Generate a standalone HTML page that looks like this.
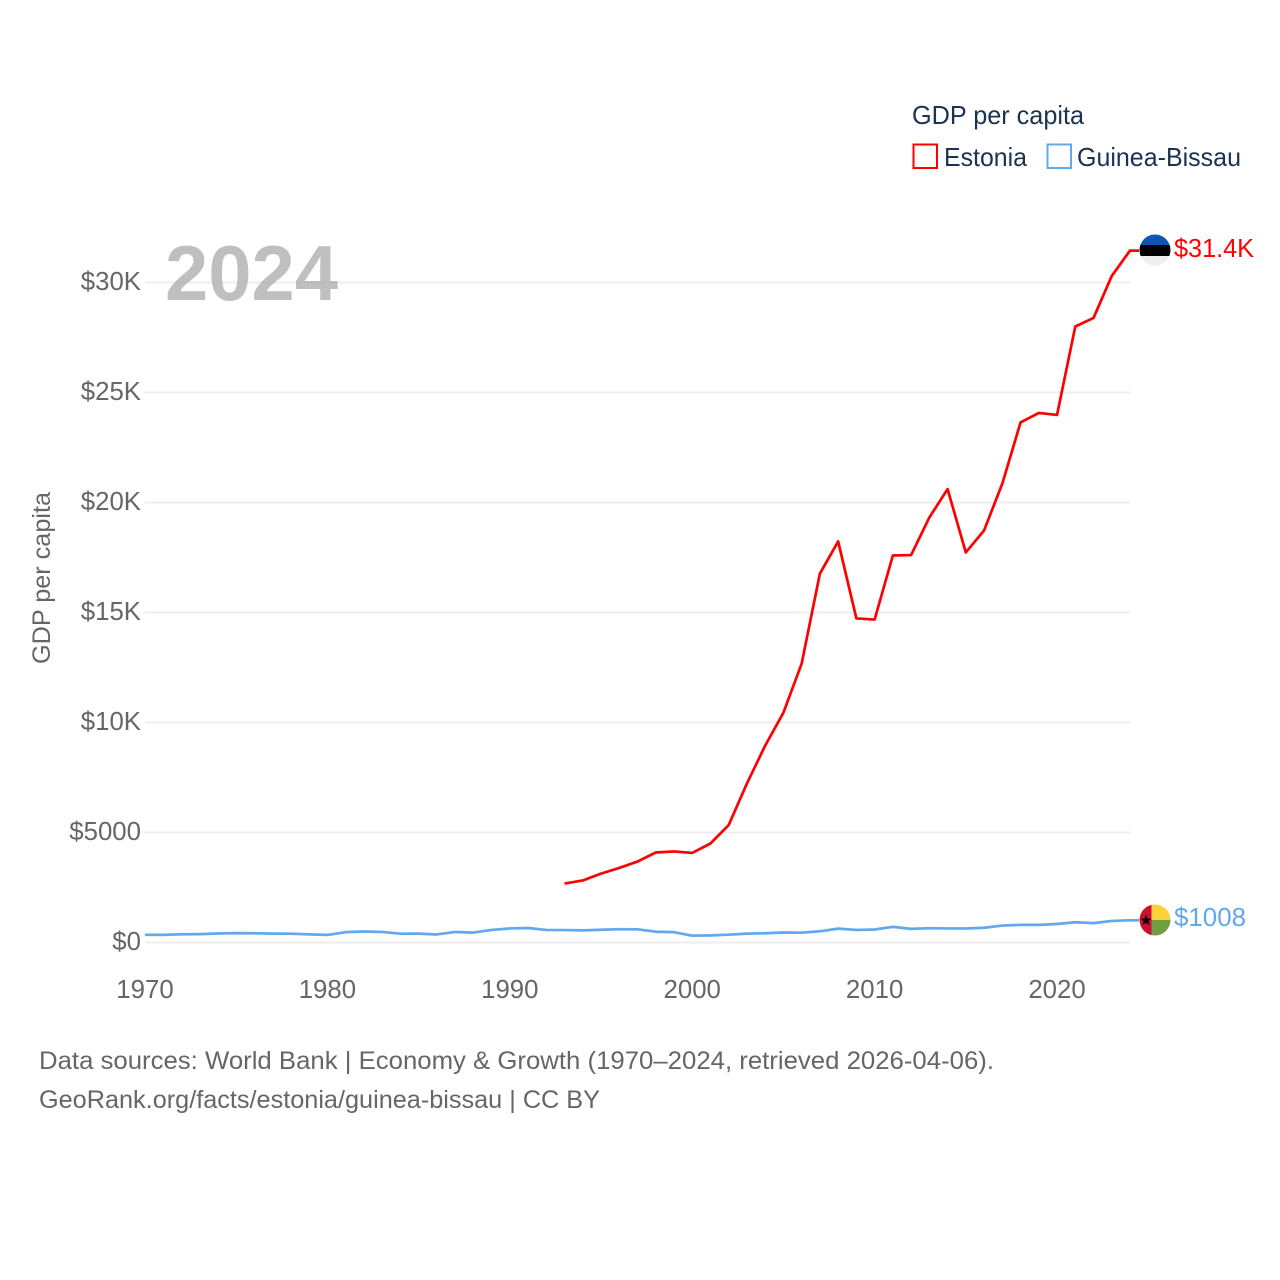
<!DOCTYPE html>
<html lang="en">
<head>
<meta charset="utf-8">
<title>GDP per capita: Estonia and Guinea-Bissau</title>
<style>
html,body{margin:0;padding:0;background:#fff;}
svg{display:block;font-family:"Liberation Sans",sans-serif;}
</style>
</head>
<body>
<svg id="chart" width="1280" height="1280" viewBox="0 0 1280 1280" xmlns="http://www.w3.org/2000/svg">
  <defs>
    <clipPath id="clip-ee"><circle cx="1155" cy="250" r="15.5"/></clipPath>
    <clipPath id="clip-gw"><circle cx="1155" cy="920" r="15.5"/></clipPath>
  </defs>
  <g id="grid"></g>
  <g id="yticks"></g>
  <g id="xticks"></g>
  <text transform="translate(50,664) rotate(-90)" font-size="25" fill="#666" textLength="172" lengthAdjust="spacingAndGlyphs">GDP per capita</text>
  <g id="series"></g>
  <text x="165" y="300" font-size="78" font-weight="700" fill="#aaa" fill-opacity="0.75" textLength="173" lengthAdjust="spacingAndGlyphs">2024</text>

  <g>
    <text x="912" y="124" font-size="26" fill="#1a3353" textLength="172" lengthAdjust="spacingAndGlyphs">GDP per capita</text>
    <g>
      <rect x="913.5" y="144.5" width="23.5" height="23.5" fill="#fff" stroke="#ff0000" stroke-width="2"/>
      <text x="944" y="166" font-size="26" fill="#1a3353" textLength="83" lengthAdjust="spacingAndGlyphs">Estonia</text>
    </g>
    <g>
      <rect x="1047.5" y="144.5" width="23.5" height="23.5" fill="#fff" stroke="#62a8ee" stroke-width="2"/>
      <text x="1077" y="166" font-size="26" fill="#1a3353" textLength="164" lengthAdjust="spacingAndGlyphs">Guinea-Bissau</text>
    </g>
  </g>

  <g clip-path="url(#clip-ee)">
    <rect x="1139" y="234" width="32" height="11" fill="#0f55b0"/>
    <rect x="1139" y="245" width="32" height="11" fill="#000"/>
    <rect x="1139" y="256" width="32" height="11" fill="#efefef"/>
  </g>
  <text x="1174" y="257" font-size="26" fill="#ff0000" textLength="80" lengthAdjust="spacingAndGlyphs">$31.4K</text>

  <g clip-path="url(#clip-gw)">
    <rect x="1139" y="904" width="13" height="32" fill="#ce1030"/>
    <rect x="1151.5" y="904" width="20" height="16" fill="#fdd13a"/>
    <rect x="1151.5" y="920" width="20" height="16" fill="#6f9e43"/>
    <polygon points="1146,914.5 1147.4,918.6 1151.6,918.6 1148.2,921.1 1149.5,925.2 1146,922.7 1142.5,925.2 1143.8,921.1 1140.4,918.6 1144.6,918.6" fill="#000"/>
  </g>
  <text x="1174" y="926" font-size="26" fill="#62a8ee" textLength="72" lengthAdjust="spacingAndGlyphs">$1008</text>

  <text x="39" y="1069" font-size="25" fill="#666" textLength="955" lengthAdjust="spacingAndGlyphs">Data sources: World Bank | Economy &amp; Growth (1970–2024, retrieved 2026-04-06).</text>
  <text x="39" y="1108" font-size="25" fill="#666" textLength="561" lengthAdjust="spacingAndGlyphs">GeoRank.org/facts/estonia/guinea-bissau | CC BY</text>
</svg>
<script>
const yTickValues = [0, 5000, 10000, 15000, 20000, 25000, 30000];
const yTickLabels = ["$0", "$5000", "$10K", "$15K", "$20K", "$25K", "$30K"];
const xTickYears = [1970, 1980, 1990, 2000, 2010, 2020];
const estoniaYears = [1993,1994,1995,1996,1997,1998,1999,2000,2001,2002,2003,2004,2005,2006,2007,2008,2009,2010,2011,2012,2013,2014,2015,2016,2017,2018,2019,2020,2021,2022,2023,2024];
const estoniaValues = [2680,2820,3130,3390,3680,4090,4140,4070,4500,5340,7230,8950,10450,12680,16770,18230,14730,14680,17590,17610,19320,20610,17730,18730,20860,23640,24070,23980,28000,28390,30300,31450];
const guineaYears = [1970,1971,1972,1973,1974,1975,1976,1977,1978,1979,1980,1981,1982,1983,1984,1985,1986,1987,1988,1989,1990,1991,1992,1993,1994,1995,1996,1997,1998,1999,2000,2001,2002,2003,2004,2005,2006,2007,2008,2009,2010,2011,2012,2013,2014,2015,2016,2017,2018,2019,2020,2021,2022,2023,2024];
const guineaValues = [350,345,375,380,410,425,420,405,400,370,345,470,500,480,400,405,365,480,450,570,640,660,570,565,550,580,605,600,490,470,310,325,355,405,420,455,445,510,630,570,590,710,620,650,640,635,670,770,800,800,840,920,880,980,1008];

const NS = "http://www.w3.org/2000/svg";
const xScale = function (year) { return 145 + (year - 1970) * (985 / 54); };
const yScale = function (value) { return 942.5 - value * 0.022; };

const gridGroup = document.getElementById("grid");
const yGroup = document.getElementById("yticks");
yTickValues.forEach(function (v, i) {
  const line = document.createElementNS(NS, "line");
  
  
  line.setAttribute("x1", 145);
  line.setAttribute("x2", 1130);
  line.setAttribute("y1", yScale(v));
  line.setAttribute("y2", yScale(v));
  line.setAttribute("stroke", "#eeeeee");
  line.setAttribute("stroke-width", 2);
  gridGroup.appendChild(line);
  const t = document.createElementNS(NS, "text");
  
  
  t.setAttribute("x", 141);
  t.setAttribute("y", yScale(v) + 7.5);
  t.setAttribute("text-anchor", "end");
  t.setAttribute("font-size", 25.8);
  t.setAttribute("fill", "#666");
  t.textContent = yTickLabels[i];
  yGroup.appendChild(t);
});

const xGroup = document.getElementById("xticks");
xTickYears.forEach(function (yr) {
  const t = document.createElementNS(NS, "text");
  
  
  t.setAttribute("x", xScale(yr));
  t.setAttribute("y", 998);
  t.setAttribute("text-anchor", "middle");
  t.setAttribute("font-size", 25.8);
  t.setAttribute("fill", "#666");
  t.textContent = String(yr);
  xGroup.appendChild(t);
});

const seriesGroup = document.getElementById("series");
function drawSeries(years, values, color, name) {
  const pts = years.map(function (yr, i) { return xScale(yr).toFixed(2) + "," + yScale(values[i]).toFixed(2); });
  const lastY = yScale(values[values.length - 1]).toFixed(2);
  pts.push((xScale(years[years.length - 1]) + 9).toFixed(2) + "," + lastY);
  const p = document.createElementNS(NS, "polyline");
  
  
  p.setAttribute("points", pts.join(" "));
  p.setAttribute("fill", "none");
  p.setAttribute("stroke", color);
  p.setAttribute("stroke-width", 2.7);
  p.setAttribute("stroke-linejoin", "round");
  seriesGroup.appendChild(p);
}
drawSeries(guineaYears, guineaValues, "#62a8ee", "guinea-bissau-line");
drawSeries(estoniaYears, estoniaValues, "#ff0000", "estonia-line");
</script>
</body>
</html>
